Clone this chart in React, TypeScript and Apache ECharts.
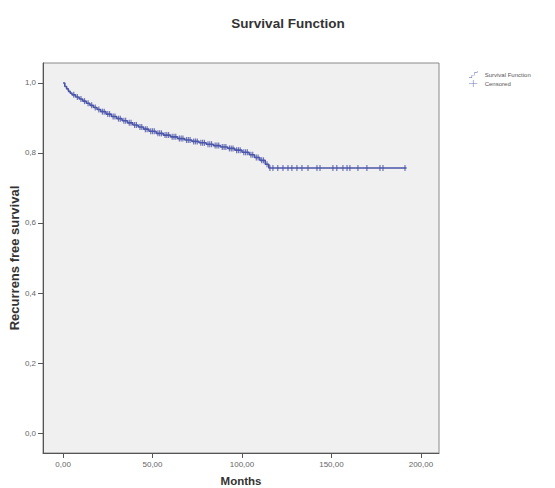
import React, { useEffect, useRef } from "react";
import * as echarts from "echarts";

const stepTimes = [0, 1, 2, 3, 4, 5, 7, 9, 11, 13, 15, 17, 19, 21, 24, 27, 30, 33, 36, 39, 42, 45, 48, 52, 56, 60, 64, 68, 72, 76, 80, 84, 88, 92, 96, 100, 104, 107, 110, 113, 115, 192];
const stepSurv = [1.0, 0.99, 0.983, 0.976, 0.971, 0.966, 0.96, 0.954, 0.948, 0.942, 0.936, 0.93, 0.924, 0.918, 0.911, 0.904, 0.898, 0.892, 0.886, 0.88, 0.874, 0.868, 0.862, 0.856, 0.851, 0.846, 0.841, 0.837, 0.833, 0.829, 0.825, 0.821, 0.817, 0.813, 0.808, 0.802, 0.795, 0.787, 0.779, 0.768, 0.757, 0.757];
const censoredTimes = [6, 8, 10, 12, 14, 16, 18, 20, 22, 23, 25, 26, 28, 29, 31, 32, 34, 35, 37, 38, 40, 41, 43, 44, 46, 47, 49, 50, 51, 53, 54, 55, 57, 58, 59, 61, 62, 63, 65, 66, 67, 69, 70, 71, 73, 74, 75, 77, 78, 79, 81, 82, 83, 85, 86, 87, 89, 90, 91, 93, 94, 95, 97, 98, 99, 101, 102, 103, 105, 106, 108, 109, 111, 112, 114, 115.6, 117.3, 120, 122.9, 125.7, 127.9, 130.7, 133.5, 136.9, 141.9, 143.6, 150.8, 153, 156.4, 158.7, 160.3, 164.8, 169.8, 177.1, 178.8, 191.1];
const xTicks = [0, 50, 100, 150, 200];
const yTicks = [0, 0.2, 0.4, 0.6, 0.8, 1.0];

const survAt = (t: number) => {
  let v = stepSurv[0];
  for (let i = 0; i < stepTimes.length; i++) if (stepTimes[i] <= t) v = stepSurv[i];
  return v;
};

export default function App() {
  const ref = useRef<HTMLDivElement>(null);
  useEffect(() => {
    const chart = echarts.init(ref.current!, null, { renderer: "svg" });
    const blue = "#4a54a8";
    const font = "Arial, Liberation Sans, sans-serif";
    chart.setOption({
      animation: false,
      backgroundColor: "#ffffff",
      title: {
        text: "Survival Function",
        left: 283,
        top: 11,
        textAlign: "center",
        textStyle: { fontFamily: font, fontSize: 13.5, fontWeight: "bold", color: "#333" },
      },
      legend: {
        orient: "vertical",
        left: 464,
        top: 66,
        itemWidth: 13,
        itemHeight: 7,
        itemGap: 2,
        textStyle: { fontFamily: font, fontSize: 6, color: "#555" },
        data: [
          { name: "Survival Function", icon: "path://M0,10H4V6H8V2H12V0H12.6V2.6H8.6V6.6H4.6V10.6H0Z", itemStyle: { color: blue } },
          { name: "Censored", icon: "path://M0,4.6H5.6V0H6.4V4.6H12V5.4H6.4V10H5.6V5.4H0Z", itemStyle: { color: blue } },
        ],
      },
      grid: {
        left: 43,
        top: 63,
        width: 396,
        height: 390,
        outerBoundsMode: "none",
        containLabel: false,
        show: true,
        backgroundColor: "#f0f0f0",
        borderColor: "#8a8a8a",
        borderWidth: 1,
      },
      xAxis: {
        type: "value",
        min: -11.2,
        max: 210.1,
        name: "Months",
        nameLocation: "middle",
        nameGap: 22,
        nameMoveOverlap: false,
        nameTextStyle: { fontFamily: font, fontSize: 11.5, fontWeight: "bold", color: "#333", lineHeight: 12 },
        splitLine: { show: false },
        axisLine: { show: true, onZero: false, lineStyle: { color: "#555" } },
        axisTick: { show: true, customValues: xTicks, length: 5, lineStyle: { color: "#555" } },
        axisLabel: {
          customValues: xTicks,
          fontSize: 8,
          color: "#666",
          margin: 7,
          fontFamily: font,
          formatter: (v: number) => v.toFixed(2).replace(".", ","),
        },
      },
      yAxis: {
        type: "value",
        min: -0.057,
        max: 1.057,
        name: "Recurrens free survival",
        nameLocation: "middle",
        nameGap: 22,
        nameMoveOverlap: false,
        nameTextStyle: { fontFamily: font, fontSize: 13, fontWeight: "bold", color: "#333", lineHeight: 13 },
        splitLine: { show: false },
        axisLine: { show: true, onZero: false, lineStyle: { color: "#555" } },
        axisTick: { show: true, customValues: yTicks, length: 5, lineStyle: { color: "#555" } },
        axisLabel: {
          customValues: yTicks,
          fontSize: 8,
          color: "#666",
          margin: 7,
          fontFamily: font,
          formatter: (v: number) => v.toFixed(1).replace(".", ","),
        },
      },
      series: [
        {
          name: "Survival Function",
          type: "line",
          step: "end",
          showSymbol: false,
          lineStyle: { color: blue, width: 1.6 },
          itemStyle: { color: blue },
          data: stepTimes.map((t, i) => [t, stepSurv[i]]),
        },
        {
          name: "Censored",
          type: "scatter",
          symbol: "rect",
          symbolSize: [1.2, 6],
          itemStyle: { color: blue },
          data: censoredTimes.map((t) => [t, survAt(t)]),
        },
      ],
    });
    return () => chart.dispose();
  }, []);
  return <div ref={ref} style={{ position: "fixed", left: 0, top: 0, width: 555, height: 488 }} />;
}
